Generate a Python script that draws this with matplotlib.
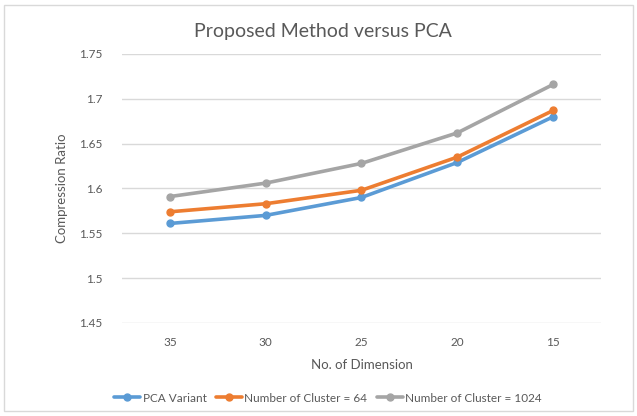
import matplotlib
matplotlib.use('Agg')
import matplotlib.pyplot as plt
import numpy as np

plt.rcParams['font.family'] = ['Lato', 'DejaVu Sans']

dimensions = ['35', '30', '25', '20', '15']
pca_variant = [1.561, 1.570, 1.590, 1.629, 1.680]
cluster_64 = [1.574, 1.583, 1.598, 1.635, 1.687]
cluster_1024 = [1.591, 1.606, 1.628, 1.662, 1.716]
y_ticks = [1.45, 1.5, 1.55, 1.6, 1.65, 1.7, 1.75]
y_tick_labels = ['1.45', '1.5', '1.55', '1.6', '1.65', '1.7', '1.75']

series = [
    (pca_variant, 'PCA Variant', '#5B9BD5'),
    (cluster_64, 'Number of Cluster = 64', '#ED7D31'),
    (cluster_1024, 'Number of Cluster = 1024', '#A5A5A5'),
]

fig = plt.figure(figsize=(6.37, 4.16), dpi=100)
ax = fig.add_axes([0.1915, 0.2236, 0.752, 0.6466])

x = np.arange(len(dimensions))
for vals, label, color in series:
    ax.plot(x, vals, color=color, lw=2.6, marker='o', ms=5, label=label,
            solid_capstyle='round')

ax.set_xlim(-0.5, len(dimensions) - 0.5)
ax.set_ylim(1.45, 1.75)
ax.set_yticks(y_ticks)
ax.set_yticklabels(y_tick_labels)
ax.set_xticks(x)
ax.set_xticklabels(dimensions)

ax.grid(axis='y', color='#D9D9D9', lw=1)
ax.set_axisbelow(True)
for s in ax.spines.values():
    s.set_visible(False)
ax.tick_params(length=0, colors='#595959', labelsize=8.5)
ax.tick_params(axis='y', pad=14)
ax.tick_params(axis='x', pad=10)

ax.set_xlabel('No. of Dimension', color='#595959', fontsize=9.5, labelpad=8)
ax.set_ylabel('Compression Ratio', color='#595959', fontsize=9.5, labelpad=8)

fig.text(0.507, 0.925, 'Proposed Method versus PCA', ha='center', va='center',
         fontsize=14, color='#595959')

fig.legend(loc='center', bbox_to_anchor=(0.515, 0.043), ncol=3, frameon=False,
           fontsize=8.5, handlelength=2.2, handletextpad=0.2, columnspacing=0.8,
           labelcolor='#595959')

# outer chart border
fig.patches.append(plt.Rectangle((0.006, 0.012), 0.988, 0.976, transform=fig.transFigure,
                                 fill=False, edgecolor='#D9D9D9', lw=1))

fig.savefig('out.png', dpi=100)
